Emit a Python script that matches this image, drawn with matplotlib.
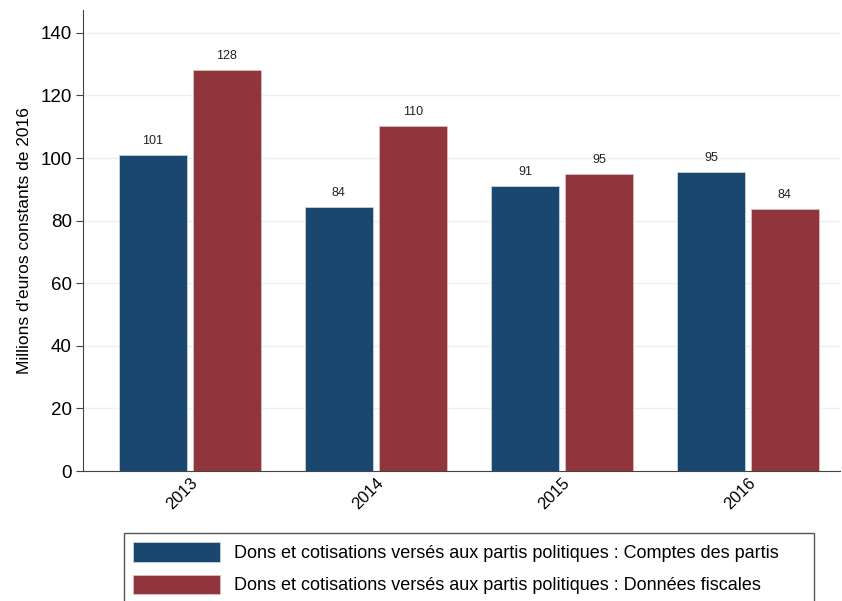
import numpy as np
import matplotlib
matplotlib.use("Agg")
import matplotlib.pyplot as plt

plt.rcParams['font.family'] = ['Liberation Sans', 'DejaVu Sans']

years = ["2013", "2014", "2015", "2016"]
comptes = [101.0, 84.4, 91.1, 95.6]
fiscales = [128.2, 110.3, 94.9, 83.7]
labels_comptes = ["101", "84", "91", "95"]
labels_fiscales = ["128", "110", "95", "84"]

blue = "#1a476f"
red = "#90353b"

fig = plt.figure(figsize=(8.42, 6.01), dpi=100)
ax = fig.add_axes([0.0986, 0.2163, 0.899, 0.767])

x = np.arange(len(years))
w = 0.366
off = 0.199
b1 = ax.bar(x - off, comptes, w, color=blue, edgecolor="#c8d3dc", linewidth=0.6, zorder=3,
            label="Dons et cotisations versés aux partis politiques : Comptes des partis")
b2 = ax.bar(x + off, fiscales, w, color=red, edgecolor="#dcc0c2", linewidth=0.6, zorder=3,
            label="Dons et cotisations versés aux partis politiques : Données fiscales")

for xi, v, t in zip(x - off, comptes, labels_comptes):
    ax.text(xi, v + 2.6, t, ha="center", va="bottom", fontsize=9, color="#222222")
for xi, v, t in zip(x + off, fiscales, labels_fiscales):
    ax.text(xi, v + 2.6, t, ha="center", va="bottom", fontsize=9, color="#222222")

ax.set_xlim(-0.575, 3.495)
ax.set_ylim(0, 147.3)
ax.set_yticks(np.arange(0, 141, 20))
ax.tick_params(axis="y", labelsize=13.5, length=5, width=0.8, color="#444444", pad=3)
ax.set_xticks(x)
ax.set_xticklabels(years, rotation=45, ha="right", rotation_mode="anchor", fontsize=12)
ax.tick_params(axis="x", length=0, pad=3)
ax.yaxis.grid(True, color="#eaf2f3", linewidth=1, zorder=0)
ax.set_axisbelow(True)
for s in ["top", "right"]:
    ax.spines[s].set_visible(False)
ax.spines["left"].set_color("#444444")
ax.spines["bottom"].set_color("#444444")
ax.set_ylabel("Millions d'euros constants de 2016", fontsize=12.5, labelpad=6)

top = 1 - 533 / 601
leg = fig.legend(handles=[b1, b2], loc="upper left",
                 bbox_to_anchor=(124 / 842, top - 0.2, (814 - 124) / 842, 0.2),
                 mode="expand", fontsize=13, frameon=True, fancybox=False, framealpha=1,
                 handlelength=4.8, handleheight=1.3, borderpad=0.5, labelspacing=0.7,
                 handletextpad=0.8, borderaxespad=0)
leg.get_frame().set_edgecolor("#555555")
leg.get_frame().set_linewidth(1)

fig.savefig("out.png", dpi=100)
